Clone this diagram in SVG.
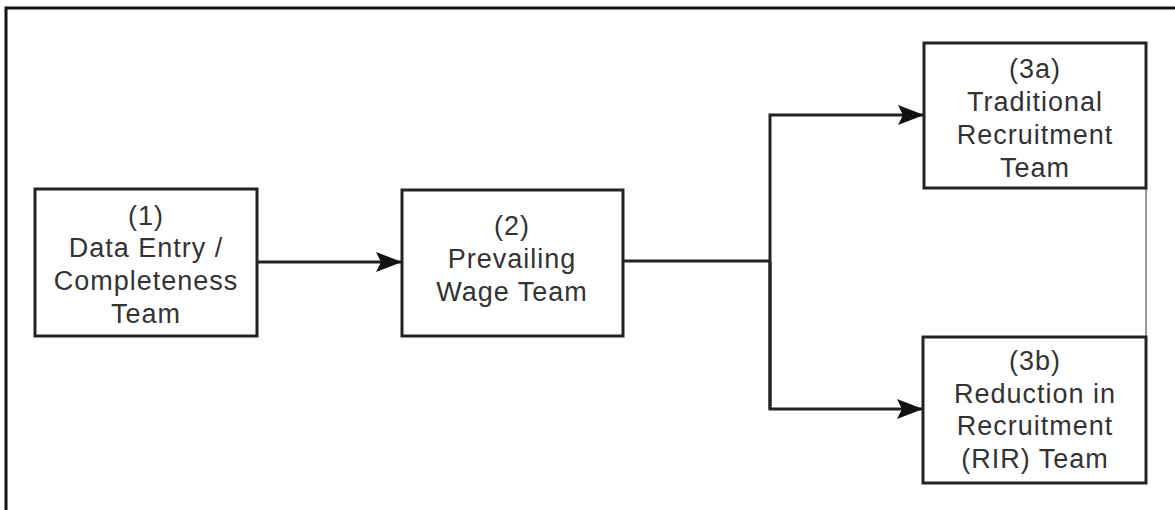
<svg xmlns="http://www.w3.org/2000/svg" width="1175" height="510" viewBox="0 0 1175 510">
<defs>
<style>
.box{fill:#fff;stroke:#222;stroke-width:3}
.lbl{font-family:"Liberation Sans",Arial,sans-serif;font-size:27px;letter-spacing:1px;fill:#333;text-anchor:middle}
.con{fill:none;stroke:#222;stroke-width:3}
</style>
<marker id="arr" viewBox="0 0 26 20" refX="25" refY="10" markerWidth="26" markerHeight="20" markerUnits="userSpaceOnUse" orient="auto">
<path d="M0,0 L26,10 L0,20 L5,10 z" fill="#111"/>
</marker>
</defs>
<rect width="1175" height="510" fill="#fff"/>
<g id="frame">
<path d="M6,520 L6,8 L1180,8" fill="none" stroke="#111" stroke-width="3"/>
<line x1="1146" y1="188" x2="1146" y2="337" stroke="#777" stroke-width="1.5"/>
</g>
<g id="connectors">
<line class="con" x1="257" y1="262" x2="401" y2="262" marker-end="url(#arr)"/>
<polyline class="con" points="623,261 770,261"/>
<polyline class="con" points="770,409 770,115 923,115" marker-end="url(#arr)"/>
<polyline class="con" points="770,262 770,409 922,409" marker-end="url(#arr)"/>
</g>
<g id="node1">
<rect class="box" x="35" y="189" width="222" height="147"/>
<text class="lbl" x="146" y="225">(1)</text>
<text class="lbl" x="146" y="257">Data Entry /</text>
<text class="lbl" x="146" y="290">Completeness</text>
<text class="lbl" x="146" y="323">Team</text>
</g>
<g id="node2">
<rect class="box" x="402" y="190" width="221" height="146"/>
<text class="lbl" x="512" y="235">(2)</text>
<text class="lbl" x="512" y="268">Prevailing</text>
<text class="lbl" x="512" y="301">Wage Team</text>
</g>
<g id="node3a">
<rect class="box" x="924" y="43" width="222" height="145"/>
<text class="lbl" x="1035" y="78">(3a)</text>
<text class="lbl" x="1035" y="111">Traditional</text>
<text class="lbl" x="1035" y="144">Recruitment</text>
<text class="lbl" x="1035" y="177">Team</text>
</g>
<g id="node3b">
<rect class="box" x="923" y="337" width="223" height="146"/>
<text class="lbl" x="1035" y="370">(3b)</text>
<text class="lbl" x="1035" y="403">Reduction in</text>
<text class="lbl" x="1035" y="435">Recruitment</text>
<text class="lbl" x="1035" y="468">(RIR) Team</text>
</g>
</svg>
